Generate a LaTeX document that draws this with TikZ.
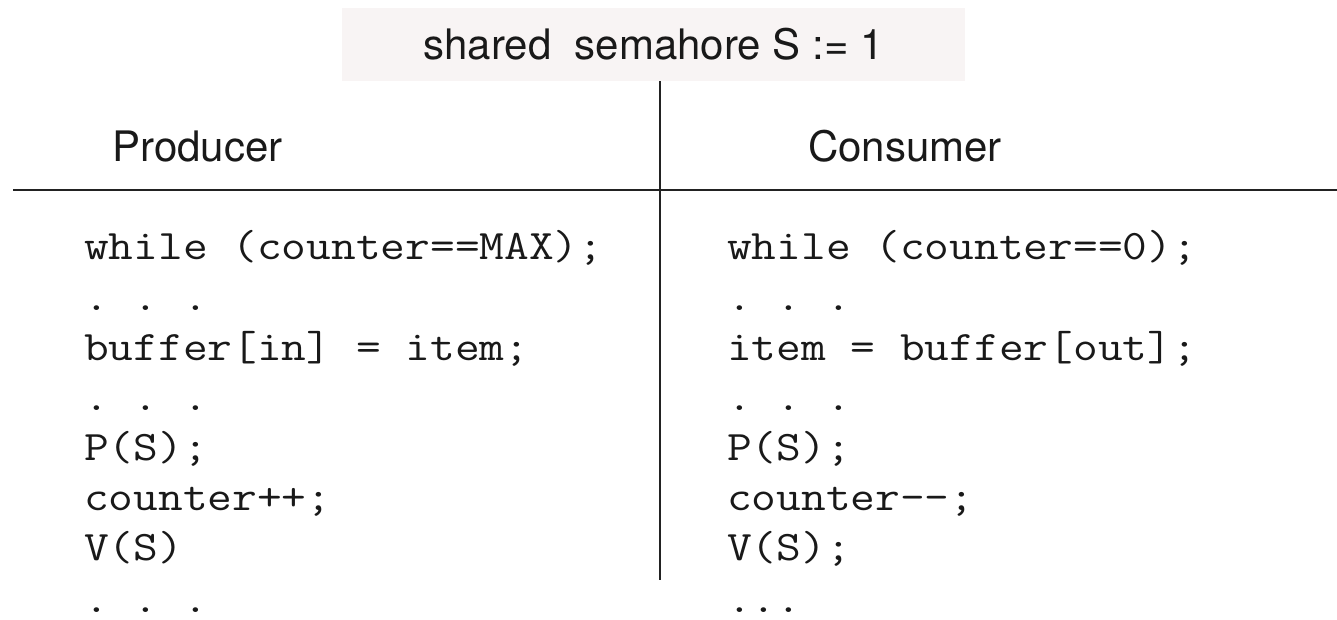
\documentclass[tikz,border=0pt]{standalone}
\usepackage{fontspec}
\setsansfont{TeX Gyre Heros}
\setmonofont[FakeStretch=1.143]{Latin Modern Mono}
\definecolor{headfill}{HTML}{F8F4F4}
\definecolor{rule}{HTML}{222222}
\begin{document}
\begin{tikzpicture}[x=1pt,y=-1pt,
  label/.style={inner sep=0pt,anchor=base west,font=\sffamily\fontsize{42}{48}\selectfont,text=black!90},
  code/.style={inner sep=0pt,anchor=base west,font=\ttfamily\fontsize{42}{48}\selectfont,text=black!90},
  rulestyle/.style={draw=rule,line width=2pt}]
\useasboundingbox (0,0) rectangle (1337,619);

% shared semaphore header
\fill[headfill] (342,8) rectangle (965,81);
\node[label,anchor=base] (header) at (653.5,59) {shared\ \ semahore S := 1};

% column headings and separators
\node[label] (prod) at (112,161) {Producer};
\node[label] (cons) at (808,161) {Consumer};
\coordinate (hl) at (13,190);
\coordinate (hr) at (1337,190);
\coordinate (vt) at (660,81);
\coordinate (vb) at (660,580);
\draw[rulestyle] (hl) -- (hr);
\draw[rulestyle] (vt) -- (vb);

% producer code
\node[code] (p1) at (84,259) {while (counter==MAX);};
\node[code] (p2) at (84,310) {. . .};
\node[code] (p3) at (84,360) {buffer[in] = item;};
\node[code] (p4) at (84,410) {. . .};
\node[code] (p5) at (84,460) {P(S);};
\node[code] (p6) at (84,510) {counter++;};
\node[code] (p7) at (84,560) {V(S)};
\node[code] (p8) at (84,612) {. . .};

% consumer code
\node[code] (c1) at (727,259) {while (counter==0);};
\node[code] (c2) at (727,310) {. . .};
\node[code] (c3) at (727,360) {item = buffer[out];};
\node[code] (c4) at (727,410) {. . .};
\node[code] (c5) at (727,460) {P(S);};
\node[code] (c6) at (727,510) {counter--;};
\node[code] (c7) at (727,560) {V(S);};
\node[code] (c8) at (727,612) {...};
\end{tikzpicture}
\end{document}
